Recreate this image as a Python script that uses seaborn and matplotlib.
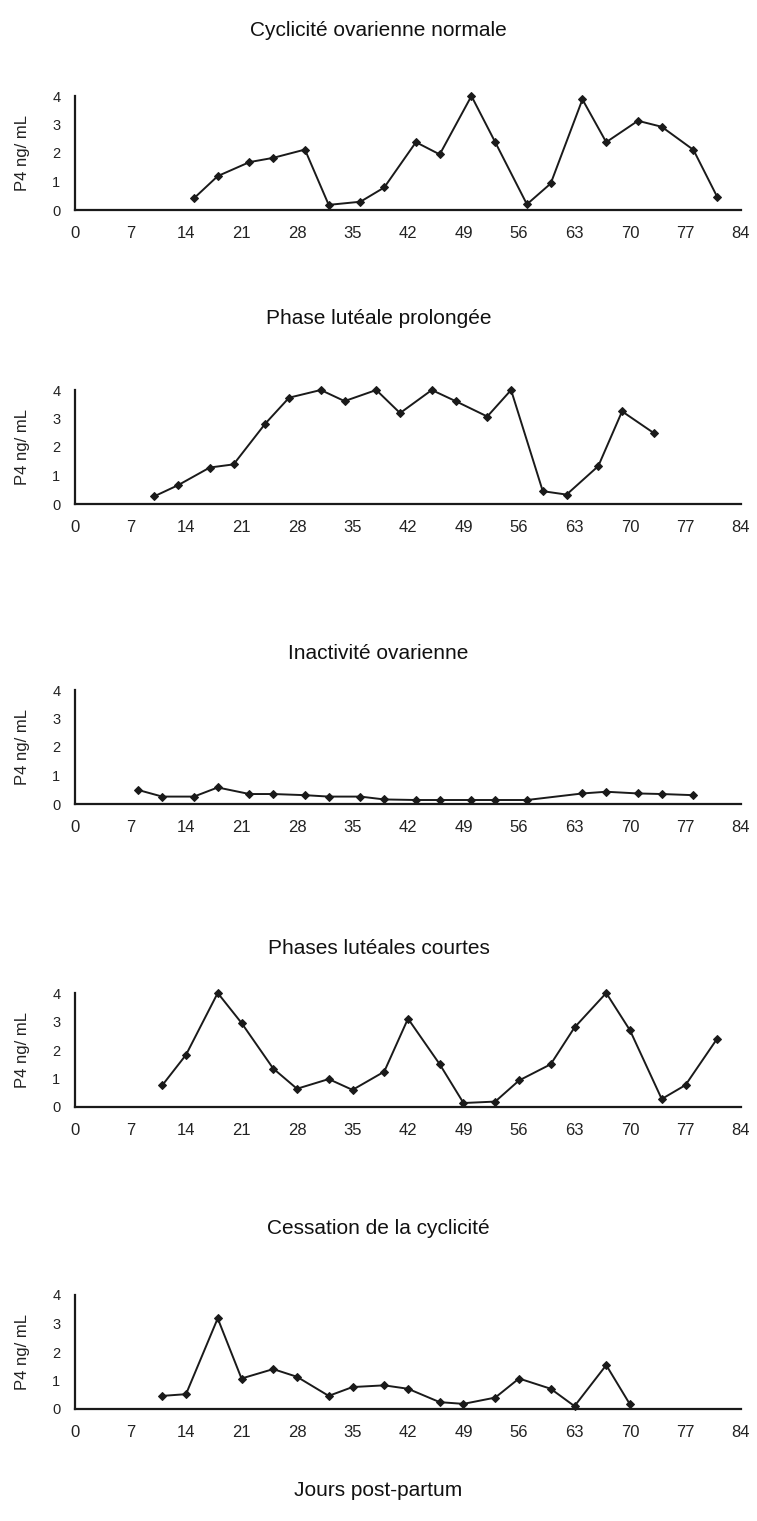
import matplotlib
matplotlib.use("Agg")
import matplotlib.pyplot as plt
import seaborn as sns
import pandas as pd

# ---- data ----
titles = ["Cyclicité ovarienne normale", "Phase lutéale prolongée",
          "Inactivité ovarienne", "Phases lutéales courtes",
          "Cessation de la cyclicité"]
xlabel_text = "Jours post-partum"
ylabel_text = "P4 ng/ mL"
x_ticks = [0, 7, 14, 21, 28, 35, 42, 49, 56, 63, 70, 77, 84]
y_ticks = [0, 1, 2, 3, 4]

days1 = [15, 18, 22, 25, 29, 32, 36, 39, 43, 46, 50, 53, 57, 60, 64, 67, 71, 74, 78, 81]
p4_1 = [0.41, 1.19, 1.68, 1.83, 2.12, 0.18, 0.29, 0.79, 2.38, 1.95, 4.0, 2.38, 0.2, 0.93,
        3.88, 2.38, 3.13, 2.92, 2.11, 0.46]

days2 = [10, 13, 17, 20, 24, 27, 31, 34, 38, 41, 45, 48, 52, 55, 59, 62, 66, 69, 73]
p4_2 = [0.27, 0.66, 1.28, 1.39, 2.82, 3.73, 4.0, 3.61, 4.0, 3.19, 4.0, 3.61, 3.07, 4.0,
        0.45, 0.33, 1.33, 3.25, 2.49]

days3 = [8, 11, 15, 18, 22, 25, 29, 32, 36, 39, 43, 46, 50, 53, 57, 64, 67, 71, 74, 78]
p4_3 = [0.49, 0.26, 0.26, 0.58, 0.35, 0.35, 0.31, 0.26, 0.26, 0.16, 0.14, 0.14, 0.14, 0.14,
        0.14, 0.37, 0.43, 0.37, 0.35, 0.31]

days4 = [11, 14, 18, 21, 25, 28, 32, 35, 39, 42, 46, 49, 53, 56, 60, 63, 67, 70, 74, 77, 81]
p4_4 = [0.76, 1.83, 4.0, 2.95, 1.35, 0.64, 0.98, 0.6, 1.24, 3.1, 1.5, 0.14, 0.19, 0.93,
        1.5, 2.79, 4.0, 2.69, 0.28, 0.77, 2.4]

days5 = [11, 14, 18, 21, 25, 28, 32, 35, 39, 42, 46, 49, 53, 56, 60, 63, 67, 70]
p4_5 = [0.46, 0.52, 3.18, 1.07, 1.4, 1.13, 0.46, 0.77, 0.83, 0.71, 0.24, 0.18, 0.4, 1.07,
        0.71, 0.1, 1.54, 0.16]

series = [(days1, p4_1), (days2, p4_2), (days3, p4_3), (days4, p4_4), (days5, p4_5)]

# ---- style ----
sns.set_theme(style="white")
plt.rcParams["font.family"] = ["Liberation Sans", "DejaVu Sans"]

W, H = 757, 1521
fig = plt.figure(figsize=(W / 100, H / 100), dpi=100)
fig.patch.set_facecolor("white")

axis_bottoms = [210, 504, 804, 1107, 1409]   # pixel rows of the y=0 axis
title_rows = [30, 318, 653, 948, 1228]
left_px, right_px = 75, 741
panel_h = 114

col = "#1a1a1a"
for i, ((d, v), t) in enumerate(zip(series, titles)):
    yb = axis_bottoms[i]
    ax = fig.add_axes([left_px / W, 1 - yb / H, (right_px - left_px) / W, panel_h / H])
    df = pd.DataFrame({"day": d, "p4": v})
    sns.lineplot(data=df, x="day", y="p4", ax=ax, color=col, linewidth=1.4,
                 marker="D", markersize=4.5, markeredgecolor=col,
                 markerfacecolor=col, clip_on=False)
    ax.set_xlim(0, 84)
    ax.set_ylim(0, 4)
    ax.set_xticks(x_ticks)
    ax.set_yticks(y_ticks)
    ax.set_xticklabels([str(x) for x in x_ticks], fontsize=12, color="#222222")
    ax.set_yticklabels([str(y) for y in y_ticks], fontsize=10.5, color="#222222")
    ax.tick_params(axis="x", direction="inout", length=7, width=1.2, color=col, pad=8)
    ax.tick_params(axis="y", direction="inout", length=7, width=1.2, color=col, pad=7)
    for s in ["top", "right"]:
        ax.spines[s].set_visible(False)
    for s in ["left", "bottom"]:
        ax.spines[s].set_color(col)
        ax.spines[s].set_linewidth(1.6)
    ax.set_xlabel("")
    ax.set_ylabel(ylabel_text, fontsize=12, color="#222222")
    ax.yaxis.set_label_coords(-0.068, 0.5)
    ax.set_facecolor("white")
    fig.text(0.5, 1 - title_rows[i] / H, t, ha="center", va="center",
             fontsize=15, color="#111111")

fig.text(0.5, 1 - 1490 / H, xlabel_text, ha="center", va="center",
         fontsize=15, color="#111111")

fig.savefig("out.png", dpi=100, facecolor="white")
